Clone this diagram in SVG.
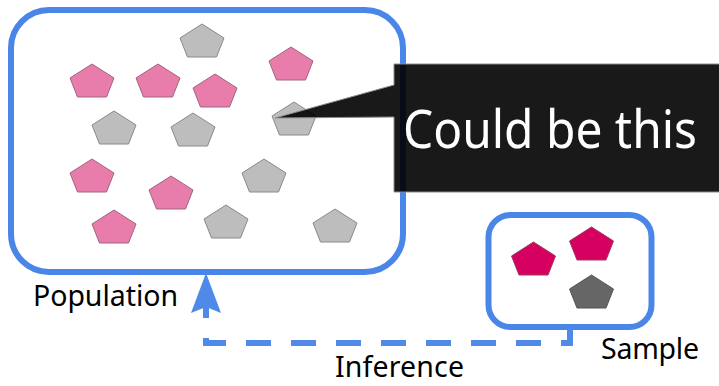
<svg xmlns="http://www.w3.org/2000/svg" xmlns:xlink="http://www.w3.org/1999/xlink" width="719" height="386" viewBox="0 0 719 386">
<style>
.box{fill:#fff;stroke:#4a86e8;stroke-width:6}
.gray{fill:#bdbdbd;stroke:#8a8a8a;stroke-width:1}
.pink{fill:#e87dac;stroke:#a06480;stroke-width:1}
.spink{fill:#d5005f;stroke:#9a3a60;stroke-width:1}
.dgray{fill:#666;stroke:#555;stroke-width:1}
.lbl{font-family:"Noto Sans","Open Sans",sans-serif;font-size:28.5px;fill:#000}
.conn{fill:none;stroke:#4f8ae8;stroke-width:6;stroke-dasharray:25 20}
</style>
<defs>
<path id="pent" d="M0,0 L22,14 L14.5,33 L-14.5,33 L-22,14 Z"/>
</defs>
<g id="population">
<rect class="box" x="11" y="10" width="392" height="262" rx="38"/>
<use href="#pent" class="gray" x="202" y="24"/>
<use href="#pent" class="gray" x="114" y="111"/>
<use href="#pent" class="gray" x="193" y="113"/>
<use href="#pent" class="gray" x="294" y="102"/>
<use href="#pent" class="gray" x="264" y="159"/>
<use href="#pent" class="gray" x="226" y="205"/>
<use href="#pent" class="gray" x="335" y="209"/>
<use href="#pent" class="pink" x="92" y="64"/>
<use href="#pent" class="pink" x="158" y="64"/>
<use href="#pent" class="pink" x="215" y="74"/>
<use href="#pent" class="pink" x="291" y="47"/>
<use href="#pent" class="pink" x="92" y="159"/>
<use href="#pent" class="pink" x="171" y="176"/>
<use href="#pent" class="pink" x="114" y="210"/>
<text class="lbl" x="33" y="306" textLength="145">Population</text>
</g>
<g id="sample">
<rect class="box" x="488.5" y="215" width="163" height="112" rx="22"/>
<use href="#pent" class="spink" x="533.5" y="242"/>
<use href="#pent" class="spink" x="591.5" y="227"/>
<use href="#pent" class="dgray" x="591.5" y="275"/>
<text class="lbl" x="601" y="359" textLength="98">Sample</text>
</g>
<g id="connectors">
<path class="conn" d="M570,327 V343 H206 V280"/>
<polygon points="206,273 221,313 206,307 191,313" fill="#4f8ae8"/>
<text class="lbl" x="335" y="377" textLength="129">Inference</text>
</g>
<g id="callout">
<path d="M394,64 H730 V192 H394 V117 L275,118 L394,85 Z" fill="#000" fill-opacity="0.9" stroke="#8c8c8c" stroke-width="1"/>
<text x="403" y="148" font-family="'Noto Sans','Open Sans',sans-serif" font-size="53" fill="#fff" textLength="294" lengthAdjust="spacingAndGlyphs">Could be this</text>
</g>
</svg>
